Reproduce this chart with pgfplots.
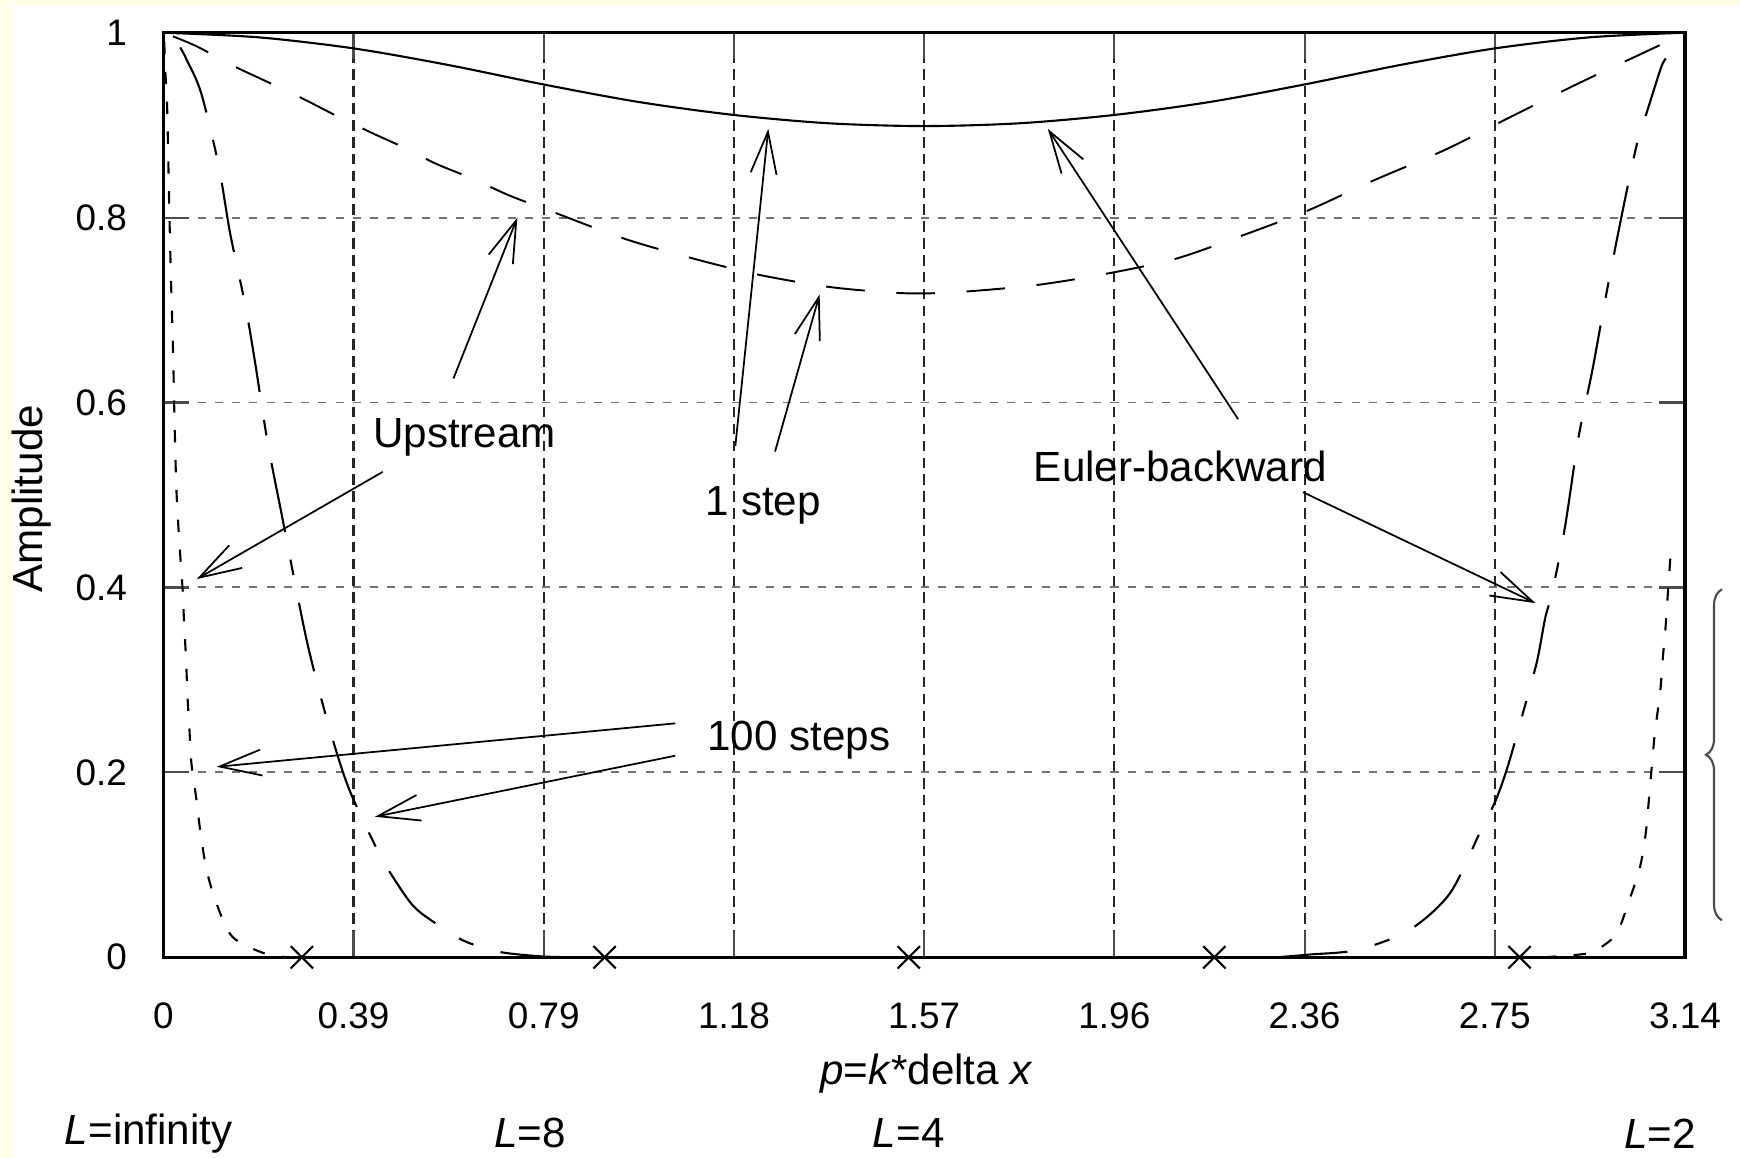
\documentclass[border=0pt]{standalone}
\usepackage{fontspec}
\setmainfont{Liberation Sans}
\usepackage{pgfplots}
\pgfplotsset{compat=1.18}
\usetikzlibrary{arrows.meta,decorations.pathreplacing}
\definecolor{cream}{HTML}{FFFEE8}

\begin{document}
\begin{tikzpicture}[
  ann/.style={font=\fontsize{12}{14}\selectfont, inner sep=0pt},
  arr/.style={-{Straight Barb[length=4.2mm,width=2.6mm]}, line width=0.5pt},
]
\useasboundingbox (-16.33mm,-20.07mm) rectangle (157.67mm,95.73mm);
\fill[cream] (-16.33mm,-20.07mm) rectangle (157.67mm,95.73mm);
\fill[white] (-15.2mm,-20.07mm) rectangle (157.67mm,95.2mm);
\begin{axis}[
  at={(0,0)}, anchor=south west,
  width=152.17mm, height=92.46mm, scale only axis,
  xmin=0, xmax=3.141593, ymin=0, ymax=1,
  clip=false,
  xtick={0,0.392699,0.785398,1.178097,1.570796,1.963495,2.356194,2.748894,3.141593},
  xticklabels={0,0.39,0.79,1.18,1.57,1.96,2.36,2.75,3.14},
  ytick={0,0.2,0.4,0.6,0.8,1},
  yticklabels={0,0.2,0.4,0.6,0.8,1},
  tick label style={font=\fontsize{10.5}{12}\selectfont},
  xticklabel style={yshift=-3.3mm},
  yticklabel style={xshift=-2.4mm},
  /pgf/number format/assume math mode=true,
  major tick length=2.6mm,
  tick style={line width=0.6pt, black!70},
  axis line style={line width=0.9pt},
  grid=major,
  x grid style={black!85, line width=0.6pt, dash pattern=on 3pt off 1.8pt},
  y grid style={black!55, line width=0.55pt, dash pattern=on 2.3pt off 2.6pt},
]

% Euler-backward, 1 step (solid)
\addplot[black, line width=0.6pt, smooth] coordinates {
  (0,1.0) (0.196,0.995) (0.393,0.983) (0.589,0.965) (0.785,0.944)
  (0.982,0.925) (1.178,0.911) (1.374,0.902) (1.571,0.899) (1.767,0.902)
  (1.963,0.911) (2.160,0.925) (2.356,0.944) (2.553,0.965) (2.749,0.983)
  (2.945,0.995) (3.1416,1.0)};

% Upstream, 1 step (dashed)
\addplot[black, line width=0.55pt, smooth, dash pattern=on 11pt off 9pt] coordinates {
  (0.02,0.996) (0.07,0.985) (0.145,0.964) (0.21,0.948) (0.283,0.930)
  (0.354,0.911) (0.429,0.892) (0.50,0.875) (0.564,0.858) (0.639,0.842)
  (0.714,0.824) (0.80,0.807) (0.953,0.777) (1.092,0.756) (1.231,0.738)
  (1.375,0.725) (1.50,0.719) (1.571,0.718) (1.656,0.720) (1.802,0.727)
  (1.944,0.739) (2.087,0.755) (2.219,0.779) (2.36,0.807) (2.498,0.840)
  (2.645,0.873) (2.778,0.908) (2.921,0.945) (3.059,0.979) (3.12,0.994)};

% Euler-backward, 100 steps (long dash - short dash)
\addplot[black, line width=0.6pt, smooth, dash pattern=on 20pt off 8pt on 4.5pt off 8pt] coordinates {
  (0.035,0.984) (0.048,0.971) (0.078,0.935) (0.114,0.857) (0.138,0.783)
  (0.169,0.706) (0.189,0.645) (0.215,0.558) (0.244,0.480) (0.270,0.410)
  (0.299,0.336) (0.338,0.257) (0.382,0.184) (0.445,0.113) (0.485,0.078)
  (0.517,0.055) (0.553,0.040) (0.62,0.018) (0.692,0.006) (0.78,0.001) (0.85,0)};
\addplot[black, line width=0.6pt, smooth, dash pattern=on 20pt off 8pt on 4.5pt off 8pt] coordinates {
  (2.30,0) (2.367,0.003) (2.465,0.008) (2.571,0.029) (2.656,0.069)
  (2.719,0.136) (2.751,0.170) (2.776,0.207) (2.808,0.266) (2.836,0.320)
  (2.853,0.367) (2.868,0.396) (2.894,0.466) (2.922,0.563) (2.950,0.634)
  (2.979,0.717) (3.010,0.800) (3.042,0.879) (3.064,0.916) (3.092,0.962) (3.102,0.972)};

% Upstream, 100 steps (short dashes)
\addplot[black, line width=0.6pt, smooth, dash pattern=on 3.5pt off 5pt] coordinates {
  (0.002,0.99) (0.004,0.96) (0.008,0.918) (0.0124,0.808) (0.016,0.731)
  (0.020,0.659) (0.023,0.585) (0.027,0.507) (0.033,0.45) (0.040,0.397)
  (0.043,0.361) (0.047,0.322) (0.050,0.282) (0.054,0.246) (0.058,0.210)
  (0.0675,0.174) (0.077,0.134) (0.0896,0.094) (0.110,0.058) (0.143,0.022)
  (0.21,0.004) (0.26,0)};
\addplot[black, line width=0.6pt, smooth, dash pattern=on 3.5pt off 5pt] coordinates {
  (2.85,0) (2.938,0.004) (2.973,0.0126) (3.002,0.027) (3.026,0.061)
  (3.048,0.096) (3.060,0.132) (3.067,0.170) (3.079,0.241) (3.090,0.285)
  (3.096,0.325) (3.101,0.354) (3.106,0.392) (3.112,0.437)};

% crosses on the p axis
\addplot[only marks, mark=x, mark size=4.5pt, black, line width=0.6pt] coordinates {
  (0.286,0) (0.911,0) (1.539,0) (2.170,0) (2.800,0)};

% annotations
\node[ann] at (axis cs:0.622,0.5625) {Upstream};
\draw[arr] (axis cs:0.599,0.626) -- (axis cs:0.731,0.800);
\draw[arr] (axis cs:0.453,0.525) -- (axis cs:0.069,0.409);

\node[ann] at (axis cs:1.239,0.489) {1 step};
\draw[arr] (axis cs:1.181,0.553) -- (axis cs:1.249,0.896);
\draw[arr] (axis cs:1.263,0.547) -- (axis cs:1.355,0.717);

\node[ann] at (axis cs:2.100,0.531) {Euler-backward};
\draw[arr] (axis cs:2.219,0.582) -- (axis cs:1.826,0.896);
\draw[arr] (axis cs:2.353,0.503) -- (axis cs:2.833,0.383);

\node[ann] at (axis cs:1.312,0.235) {100 steps};
\draw[arr] (axis cs:1.057,0.253) -- (axis cs:0.110,0.206);
\draw[arr] (axis cs:1.057,0.218) -- (axis cs:0.437,0.152);

% brace on the right
\draw[black!70, line width=0.6pt, decorate, decoration={brace, amplitude=1.6mm}]
  (axis cs:3.218,0.04) -- (axis cs:3.218,0.398);

% axis labels and wavelength labels
\node[ann, rotate=90] at ([xshift=-13.2mm]axis cs:0,0.496) {Amplitude};
\node[ann] at ([yshift=-11.6mm]axis cs:1.576,0) {\textit{p}=\textit{k}*delta \textit{x}};
\node[ann] at ([yshift=-17.6mm]axis cs:-0.03,0) {\textit{L}=infinity};
\node[ann] at ([yshift=-17.6mm]axis cs:0.757,0) {\textit{L}=8};
\node[ann] at ([yshift=-17.6mm]axis cs:1.539,0) {\textit{L}=4};
\node[ann] at ([yshift=-17.6mm]axis cs:3.090,0) {\textit{L}=2};
\end{axis}
\end{tikzpicture}
\end{document}
